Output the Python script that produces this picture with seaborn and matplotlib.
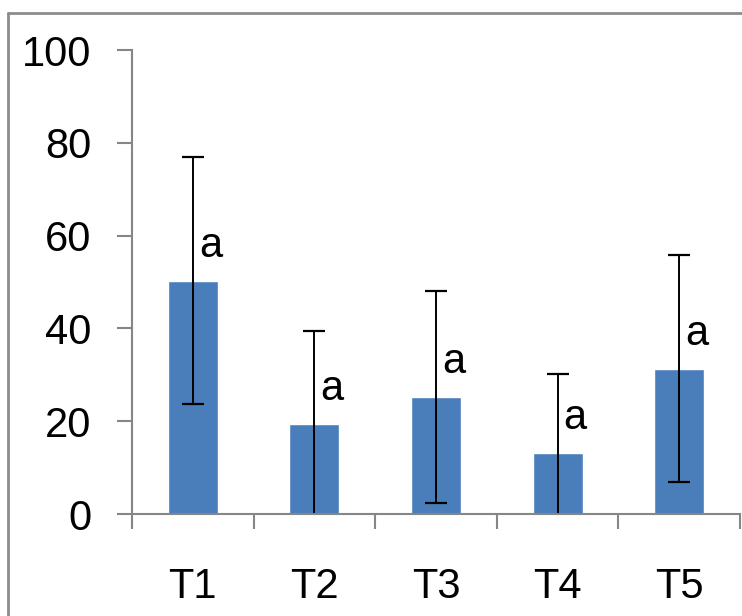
import matplotlib
matplotlib.use("Agg")
import matplotlib.pyplot as plt
from matplotlib.lines import Line2D
import seaborn as sns

# chart data
treatments = ["T1", "T2", "T3", "T4", "T5"]
means = [50.3, 19.5, 25.2, 13.1, 31.3]
errors = [26.7, 20.0, 22.9, 17.0, 24.5]
letters = ["a", "a", "a", "a", "a"]
y_ticks = [0, 20, 40, 60, 80, 100]

sns.set_style("white")
plt.rcParams["font.family"] = ["Liberation Sans", "DejaVu Sans"]
plt.rcParams["text.color"] = "black"
plt.rcParams["xtick.color"] = "black"
plt.rcParams["ytick.color"] = "black"

bar_color = "#4a7ebb"
axis_gray = "#868686"

fig = plt.figure(figsize=(7.42, 6.16), dpi=100)
ax = fig.add_axes([132 / 742, 1 - 514 / 616, 608 / 742, 464 / 616])

sns.barplot(x=treatments, y=means, color=bar_color, width=0.41,
            saturation=1, ax=ax)
ax.errorbar(range(len(treatments)), means, yerr=errors, fmt="none",
            ecolor="black", elinewidth=1.4, capsize=7.9, capthick=1.6)

for i, (m, lab) in enumerate(zip(means, letters)):
    ax.text(i + 0.05, m + 7.5, lab, fontsize=30, color="black",
            ha="left", va="center")

ax.set_xlim(-0.5, len(treatments) - 0.5)
ax.set_ylim(0, 100)
ax.set_yticks(y_ticks)
ax.set_yticklabels([str(v) for v in y_ticks], fontsize=30)

# category boundaries get the tick marks, labels sit between them
ax.set_xticks([i - 0.5 for i in range(len(treatments) + 1)])
ax.set_xticklabels([])
ax.set_xticks(range(len(treatments)), minor=True)
ax.set_xticklabels(treatments, minor=True, fontsize=30)
ax.tick_params(axis="x", which="minor", bottom=True, length=0, pad=38,
               labelcolor="black")
ax.tick_params(axis="x", which="major", bottom=True, length=11, width=1.5,
               color=axis_gray, direction="out")
ax.tick_params(axis="y", left=True, length=11, width=1.5, color=axis_gray,
               direction="out", pad=18, labelcolor="black")
ax.set_xlabel("")
ax.set_ylabel("")

for side in ["top", "right"]:
    ax.spines[side].set_visible(False)
for side in ["left", "bottom"]:
    ax.spines[side].set_color(axis_gray)
    ax.spines[side].set_linewidth(1.5)

# gray outer frame (only top and left edges are visible in the crop)
fig.add_artist(Line2D([8 / 742, 1], [1 - 13 / 616, 1 - 13 / 616],
                      transform=fig.transFigure, color="#8c8c8c", lw=2))
fig.add_artist(Line2D([8 / 742, 8 / 742], [0, 1 - 13 / 616],
                      transform=fig.transFigure, color="#8c8c8c", lw=2))

fig.savefig("out.png", dpi=100)
